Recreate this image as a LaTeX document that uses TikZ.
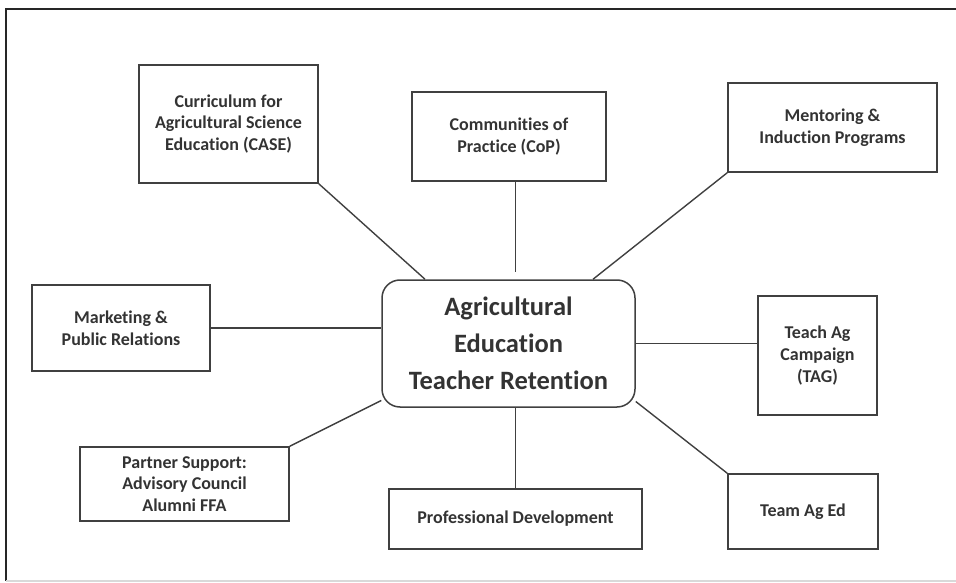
\documentclass[tikz,border=0pt]{standalone}
\usepackage{fontspec}
\setmainfont{Carlito}[Ligatures=NoCommon]
\usepackage{tikz}
\usetikzlibrary{positioning}
\usepackage{xcolor}

\tikzset{
  topic/.style={draw=black!75, line width=1.5pt, rectangle, align=center, inner sep=0pt,
    text=black!80, font=\bfseries\fontsize{18}{21.7}\selectfont},
  link/.style={draw=black!75, line width=1.4pt}
}

\begin{document}
\begin{tikzpicture}[x=1pt, y=-1pt]
\useasboundingbox (0,0) rectangle (956,583);
% frame
\draw[line width=2.5pt, black!85] (956,9) -- (6,9) -- (6,581);
\draw[line width=1.5pt, black!15] (6,581) -- (956,581);

% core
\node[draw=black!75, line width=1.5pt, rounded corners=18pt, minimum width=253pt, minimum height=127pt,
  align=center, text=black!80, font=\bfseries\fontsize{26.5}{37}\selectfont] (core) at (508.5,343.5)
  {Agricultural\\Education\\Teacher Retention};

% topics
\node[topic, minimum width=179pt, minimum height=118pt] (case) at (228.5,124) {Curriculum for\\Agricultural Science\\Education (CASE)};
\node[topic, minimum width=194pt, minimum height=89pt] (cop) at (509,136.5) {Communities of\\Practice (CoP)};
\node[topic, minimum width=209pt, minimum height=89pt] (ment) at (832.5,127.5) {Mentoring \&\\Induction Programs};
\node[topic, minimum width=178pt, minimum height=86pt] (mkt) at (121,328) {Marketing \&\\Public Relations};
\node[topic, minimum width=119pt, minimum height=119pt] (tag) at (817.5,355.5) {Teach Ag\\Campaign\\(TAG)};
\node[topic, minimum width=209pt, minimum height=74pt] (part) at (184.5,484) {Partner Support:\\Advisory Council\\Alumni FFA};
\node[topic, minimum width=253pt, minimum height=60pt] (pd) at (515.5,519) {Professional Development};
\node[topic, minimum width=150pt, minimum height=75pt] (team) at (803,511.5) {Team Ag Ed};

% links
\draw[link] (case.south east) -- ([xshift=-83.5pt]core.north);
\draw[link] (cop.south -| pd.north) -- ([yshift=7pt]core.north -| pd.north);
\draw[link] (ment.south west) -- ([xshift=84.5pt]core.north);
\draw[link] (mkt.east) -- (mkt.east -| core.west);
\draw[link] (core.east) -- (core.east -| tag.west);
\draw[link] (part.north east) -- ([yshift=-57pt]core.west);
\draw[link] (pd.north) -- (pd.north |- core.south);
\draw[link] (team.north west) -- ([yshift=-58pt]core.east);
\end{tikzpicture}
\end{document}
